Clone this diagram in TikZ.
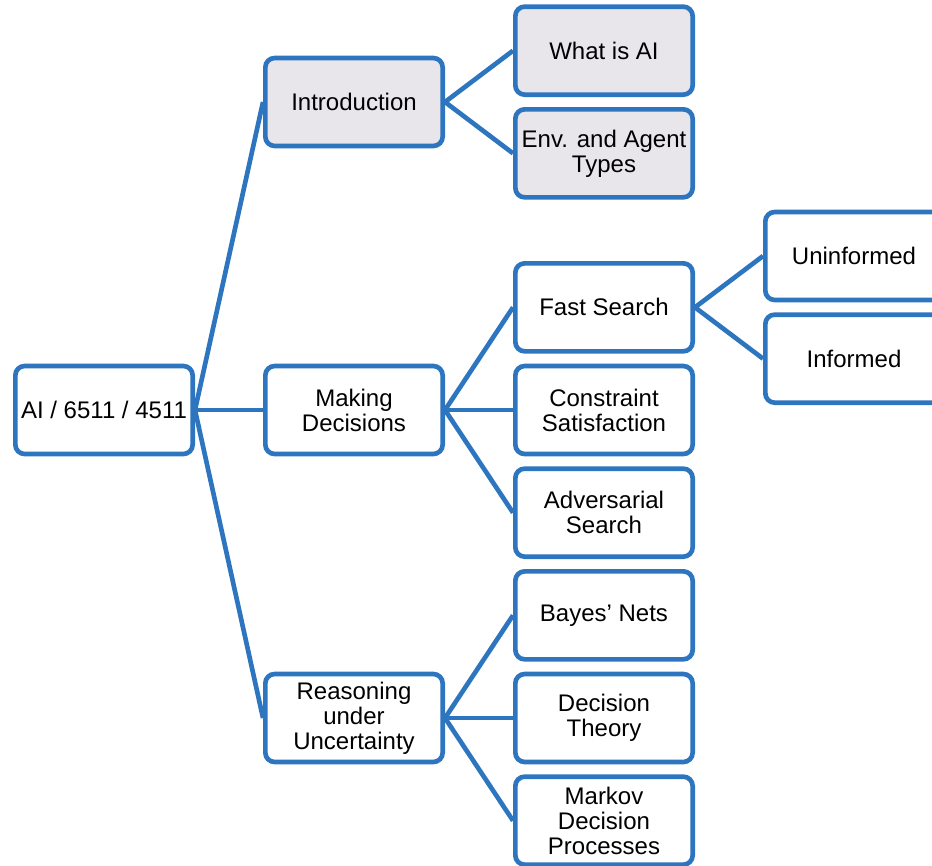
\documentclass[tikz,border=0pt]{standalone}
\usepackage{fontspec}
\setmainfont{Liberation Sans}
\definecolor{boxblue}{RGB}{46,117,192}
\definecolor{boxgray}{RGB}{232,230,235}
\begin{document}
\begin{tikzpicture}[x=0.75pt,y=-0.75pt,grow'=right,
        level distance=187.5pt,
        level 1/.style={sibling distance=231pt},
        level 2/.style={sibling distance=77pt},
        level 3/.style={sibling distance=77pt},
        topic/.style={draw=boxblue,line width=3.5pt,rounded corners=7pt,fill=white,
          minimum width=133pt,minimum height=66pt,inner sep=2pt,align=center,
          font=\fontsize{18}{18.75}\selectfont},
        intro/.style={topic,fill=boxgray},
        edge from parent/.style={draw=boxblue,line width=3.5pt},
        edge from parent path={(\tikzparentnode.east) -- (\tikzchildnode.west)}]
        \useasboundingbox (0,0) rectangle (932,865);
        \node[topic] (ai) at (104,410) {AI / 6511 / 4511}
          child {node[intro] (intro) {Introduction}
            child {node[intro] (whatis) {What is AI}}
            child {node[intro] (envtypes) {Env. and Agent\\Types}}
          }
          child {node[topic] (decisions) {Making\\Decisions}
            child {node[topic] (search) {Fast Search}
              child {node[topic] (uninformed) {Uninformed}}
              child {node[topic] (informed) {Informed}}
            }
            child {node[topic] (csp) {Constraint\\Satisfaction}}
            child {node[topic] (adversarial) {Adversarial\\Search}}
          }
          child {node[topic] (uncertainty) {Reasoning\\under\\Uncertainty}
            child {node[topic] (bayes) {Bayes’ Nets}}
            child {node[topic] (theory) {Decision\\Theory}}
            child {node[topic] (mdp) {Markov\\Decision\\Processes}}
          };
      \end{tikzpicture}
\end{document}
